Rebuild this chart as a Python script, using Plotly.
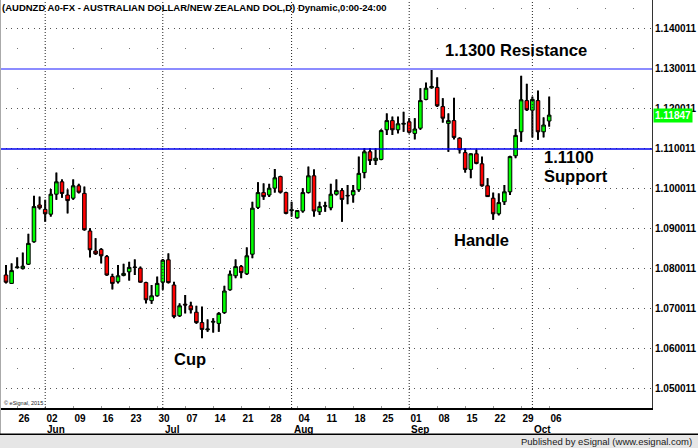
import pandas as pd
import plotly.graph_objects as go

# ---------------- data ----------------
dates = pd.bdate_range("2015-05-22", "2015-10-06").strftime("%Y-%m-%d").tolist()  # 98 trading days

opens = [1.0785, 1.0764, 1.0803, 1.0801, 1.0812, 1.0868, 1.0960, 1.0949, 1.0937, 1.0987,
         1.1018, 1.0985, 1.0977, 1.1008, 1.0989, 1.0895, 1.0845, 1.0849, 1.0831, 1.0781,
         1.0768, 1.0784, 1.0793, 1.0805, 1.0802, 1.0766, 1.0721, 1.0733, 1.0767, 1.0823,
         1.0760, 1.0683, 1.0712, 1.0708, 1.0692, 1.0666, 1.0648, 1.0667, 1.0664, 1.0691,
         1.0748, 1.0783, 1.0806, 1.0788, 1.0837, 1.0954, 1.0991, 1.0985, 1.1002, 1.1031,
         1.0991, 1.0946, 1.0928, 1.0945, 1.0991, 1.1033, 1.0943, 1.0957, 1.0953, 1.0987,
         1.0996, 1.0984, 1.0985, 1.0998, 1.1041, 1.1093, 1.1071, 1.1074, 1.1148, 1.1171,
         1.1148, 1.1162, 1.1168, 1.1139, 1.1152, 1.1224, 1.1253, 1.1254, 1.1206, 1.1164,
         1.1171, 1.1127, 1.1091, 1.1049, 1.1088, 1.1063, 1.1008, 1.0977, 1.0938, 1.0968,
         1.0993, 1.1083, 1.1143, 1.1221, 1.1197, 1.1221, 1.1143, 1.1170]
highs = [1.0810, 1.0814, 1.0829, 1.0841, 1.0888, 1.0983, 1.0981, 1.0973, 1.1000, 1.1041,
         1.1024, 1.0999, 1.1024, 1.1013, 1.1006, 1.0902, 1.0877, 1.0852, 1.0835, 1.0788,
         1.0810, 1.0813, 1.0818, 1.0824, 1.0806, 1.0768, 1.0760, 1.0781, 1.0825, 1.0839,
         1.0768, 1.0714, 1.0735, 1.0718, 1.0708, 1.0706, 1.0674, 1.0677, 1.0692, 1.0758,
         1.0796, 1.0824, 1.0810, 1.0854, 1.0968, 1.1017, 1.1014, 1.1013, 1.1050, 1.1033,
         1.0993, 1.0968, 1.0947, 1.1002, 1.1056, 1.1049, 1.0968, 1.0968, 1.1013, 1.1024,
         1.1002, 1.1010, 1.1010, 1.1081, 1.1102, 1.1102, 1.1102, 1.1149, 1.1189, 1.1181,
         1.1181, 1.1193, 1.1177, 1.1177, 1.1252, 1.1266, 1.1300, 1.1279, 1.1227, 1.1189,
         1.1228, 1.1129, 1.1102, 1.1089, 1.1099, 1.1081, 1.1027, 1.0991, 1.0989, 1.1010,
         1.1083, 1.1150, 1.1283, 1.1263, 1.1231, 1.1246, 1.1179, 1.1231]
lows = [1.0764, 1.0763, 1.0802, 1.0799, 1.0810, 1.0866, 1.0949, 1.0918, 1.0931, 1.0973,
        1.0978, 1.0939, 1.0973, 1.0989, 1.0896, 1.0829, 1.0835, 1.0814, 1.0783, 1.0749,
        1.0764, 1.0782, 1.0771, 1.0785, 1.0766, 1.0714, 1.0713, 1.0731, 1.0748, 1.0764,
        1.0677, 1.0680, 1.0689, 1.0689, 1.0663, 1.0627, 1.0643, 1.0641, 1.0643, 1.0688,
        1.0746, 1.0777, 1.0777, 1.0785, 1.0827, 1.0950, 1.0973, 1.0980, 1.0991, 1.0989,
        1.0937, 1.0931, 1.0926, 1.0941, 1.0989, 1.0931, 1.0935, 1.0943, 1.0947, 1.0984,
        1.0918, 1.0962, 1.0966, 1.0993, 1.1027, 1.1060, 1.1060, 1.1072, 1.1135, 1.1135,
        1.1139, 1.1143, 1.1139, 1.1124, 1.1148, 1.1222, 1.1251, 1.1205, 1.1166, 1.1093,
        1.1124, 1.1089, 1.1041, 1.1027, 1.1062, 1.1006, 1.0980, 1.0923, 1.0934, 1.0960,
        1.0985, 1.1077, 1.1118, 1.1195, 1.1129, 1.1123, 1.1129, 1.1156]
closes = [1.0767, 1.0796, 1.0805, 1.0807, 1.0864, 1.0956, 1.0953, 1.0938, 1.0987, 1.1018,
          1.0989, 1.0971, 1.1008, 1.0992, 1.0898, 1.0848, 1.0838, 1.0833, 1.0785, 1.0764,
          1.0783, 1.0789, 1.0804, 1.0804, 1.0767, 1.0723, 1.0733, 1.0764, 1.0822, 1.0766,
          1.0681, 1.0708, 1.0710, 1.0698, 1.0666, 1.0649, 1.0650, 1.0669, 1.0689, 1.0745,
          1.0787, 1.0806, 1.0791, 1.0833, 1.0952, 1.0991, 1.0981, 1.1002, 1.1028, 1.0992,
          1.0939, 1.0948, 1.0946, 1.0991, 1.1033, 1.0945, 1.0956, 1.0958, 1.0987, 1.0996,
          1.0974, 1.0983, 1.0996, 1.1039, 1.1093, 1.1071, 1.1077, 1.1146, 1.1171, 1.1148,
          1.1163, 1.1164, 1.1142, 1.1150, 1.1221, 1.1252, 1.1256, 1.1208, 1.1177, 1.1171,
          1.1129, 1.1098, 1.1049, 1.1088, 1.1064, 1.1008, 1.0981, 1.0938, 1.0966, 1.0993,
          1.1081, 1.1134, 1.1223, 1.1198, 1.1224, 1.1143, 1.1160, 1.11847]

tick_dates = ["2015-05-26", "2015-06-02", "2015-06-09", "2015-06-16", "2015-06-23", "2015-06-30",
              "2015-07-07", "2015-07-14", "2015-07-21", "2015-07-28", "2015-08-04", "2015-08-11",
              "2015-08-18", "2015-08-25", "2015-09-01", "2015-09-08", "2015-09-15", "2015-09-22",
              "2015-09-29", "2015-10-06"]
tick_days = ["26", "02", "09", "16", "23", "30", "07", "14", "21", "28", "04", "11",
             "18", "25", "01", "08", "15", "22", "29", "06"]
month_dates = ["2015-06-02", "2015-07-01", "2015-08-03", "2015-09-01", "2015-10-01"]
month_names = ["Jun", "Jul", "Aug", "Sep", "Oct"]
price_ticks = [1.050011, 1.060011, 1.070011, 1.080011, 1.090011,
               1.100011, 1.110011, 1.120011, 1.130011, 1.140011]
half_ticks = [1.055011, 1.065011, 1.075011, 1.085011, 1.095011,
              1.105011, 1.115011, 1.125011, 1.135011, 1.145011]
resistance = 1.1300
support = 1.1100
last_price = 1.11847

FONT = "Liberation Sans, Arial, sans-serif"

# ---------------- figure ----------------
fig = go.Figure()

# wicks: thin black bars from low to high (drawn beneath the candle bodies)
fig.add_trace(go.Bar(x=dates, base=lows, y=[h - l for h, l in zip(highs, lows)],
                     width=0.36, marker=dict(color="black", line=dict(width=0)),
                     hoverinfo="skip", showlegend=False))

fig.add_trace(go.Candlestick(
    x=dates, open=opens, high=highs, low=lows, close=closes,
    increasing=dict(line=dict(color="black", width=1), fillcolor="#00ff00"),
    decreasing=dict(line=dict(color="black", width=1), fillcolor="#ff0000"),
    whiskerwidth=0, showlegend=False))

shapes = []
# month gridlines (category positions of the first trading day shown in each month)
for d in month_dates:
    pos = dates.index(d)
    shapes.append(dict(type="line", xref="x", yref="paper", x0=pos, x1=pos, y0=0, y1=1,
                       line=dict(color="#222", width=1, dash="1px,2px")))
# support / resistance
shapes.append(dict(type="line", xref="paper", yref="y", x0=0, x1=1, y0=resistance, y1=resistance,
                   line=dict(color="#8c8cff", width=2)))
shapes.append(dict(type="line", xref="paper", yref="y", x0=0, x1=1, y0=support, y1=support,
                   line=dict(color="#0000ee", width=1.5)))
# left border
shapes.append(dict(type="line", xref="paper", yref="paper", x0=0, x1=0, y0=-0.064, y1=1,
                   line=dict(color="#aaaaaa", width=2)))
# bottom band
shapes.append(dict(type="rect", xref="paper", yref="paper", x0=0, x1=698 / 652, y0=-0.1, y1=-0.0645,
                   fillcolor="#e6e6e6", line=dict(width=0)))
shapes.append(dict(type="line", xref="paper", yref="paper", x0=0, x1=698 / 652, y0=-0.0645, y1=-0.0645,
                   line=dict(color="black", width=1.5)))

annotations = []
annotations.append(dict(text="<b>(AUDNZD A0-FX - AUSTRALIAN DOLLAR/NEW ZEALAND DOL,D) Dynamic,0:00-24:00</b>",
                        xref="paper", yref="paper", x=0, y=1, xanchor="left", yanchor="top",
                        showarrow=False, bgcolor="rgba(0,0,0,0)",
                        font=dict(family=FONT, size=9.5, color="black")))
big = dict(family=FONT, size=16.5, color="black")
annotations.append(dict(text="<b>1.1300 Resistance</b>", xref="paper", yref="paper", x=515.5 / 652,
                        y=(408 - 50) / 408, xanchor="center", yanchor="middle", showarrow=False, font=big))
annotations.append(dict(text="<b>1.1100</b>", xref="paper", yref="paper", x=542 / 652,
                        y=(408 - 157) / 408, xanchor="left", yanchor="middle", showarrow=False, font=big))
annotations.append(dict(text="<b>Support</b>", xref="paper", yref="paper", x=542 / 652,
                        y=(408 - 176) / 408, xanchor="left", yanchor="middle", showarrow=False, font=big))
annotations.append(dict(text="<b>Handle</b>", xref="paper", yref="paper", x=481 / 652,
                        y=(408 - 240) / 408, xanchor="center", yanchor="middle", showarrow=False, font=big))
annotations.append(dict(text="<b>Cup</b>", xref="paper", yref="paper", x=189.5 / 652,
                        y=(408 - 359) / 408, xanchor="center", yanchor="middle", showarrow=False, font=big))
# last price box
annotations.append(dict(text="<b>%.5f</b>" % last_price, xref="paper", yref="y", x=1, y=last_price,
                        xanchor="left", yanchor="middle", xshift=1, showarrow=False, bgcolor="#00ff00",
                        borderpad=1, font=dict(family=FONT, size=10, color="white")))
# month labels
for d, m in zip(month_dates, month_names):
    annotations.append(dict(text="<b>%s</b>" % m, xref="x", yref="paper", x=dates.index(d),
                            y=(408 - 429) / 408, xanchor="left", yanchor="middle", showarrow=False,
                            font=dict(family=FONT, size=10, color="black")))
annotations.append(dict(text="© eSignal, 2015", xref="paper", yref="paper", x=0.003, y=(408 - 403) / 408,
                        xanchor="left", yanchor="middle", showarrow=False,
                        font=dict(family=FONT, size=5.5, color="#222")))
annotations.append(dict(text="Published by eSignal (www.esignal.com)", xref="paper", yref="paper",
                        x=694 / 652, y=(408 - 441) / 408, xanchor="right", yanchor="middle", showarrow=False,
                        font=dict(family=FONT, size=9.5, color="#1a1a1a")))

fig.update_layout(
    width=698, height=448,
    margin=dict(l=0, r=46, t=0, b=40, pad=0),
    paper_bgcolor="white", plot_bgcolor="white",
    showlegend=False, boxgap=0.2, boxgroupgap=0.2,
    shapes=shapes, annotations=annotations,
    xaxis=dict(type="category", range=[-1.07, 115.36], rangeslider=dict(visible=False),
               tickvals=tick_dates, ticktext=tick_days, ticklabelposition="outside right",
               tickfont=dict(family=FONT, size=10, color="black", weight="bold"),
               ticks="inside", ticklen=2, tickcolor="#999", showgrid=False, zeroline=False,
               showline=True, linecolor="black", linewidth=1.5),
    yaxis=dict(side="right", range=[1.04525, 1.14725], tickvals=price_ticks, tickformat=".6f",
               tickfont=dict(family=FONT, size=10, color="black", weight="bold"),
               showgrid=True, gridcolor="#555", gridwidth=1, griddash="1px,4.6px",
               minor=dict(tickvals=half_ticks, showgrid=True, gridcolor="#777", griddash="0px,17px,1px,10px"),
               zeroline=False, showline=True, linecolor="#333", linewidth=1, ticks=""),
)

fig.write_html("out.html", config={"displayModeBar": False},
               post_script="document.body.style.margin='0';")
